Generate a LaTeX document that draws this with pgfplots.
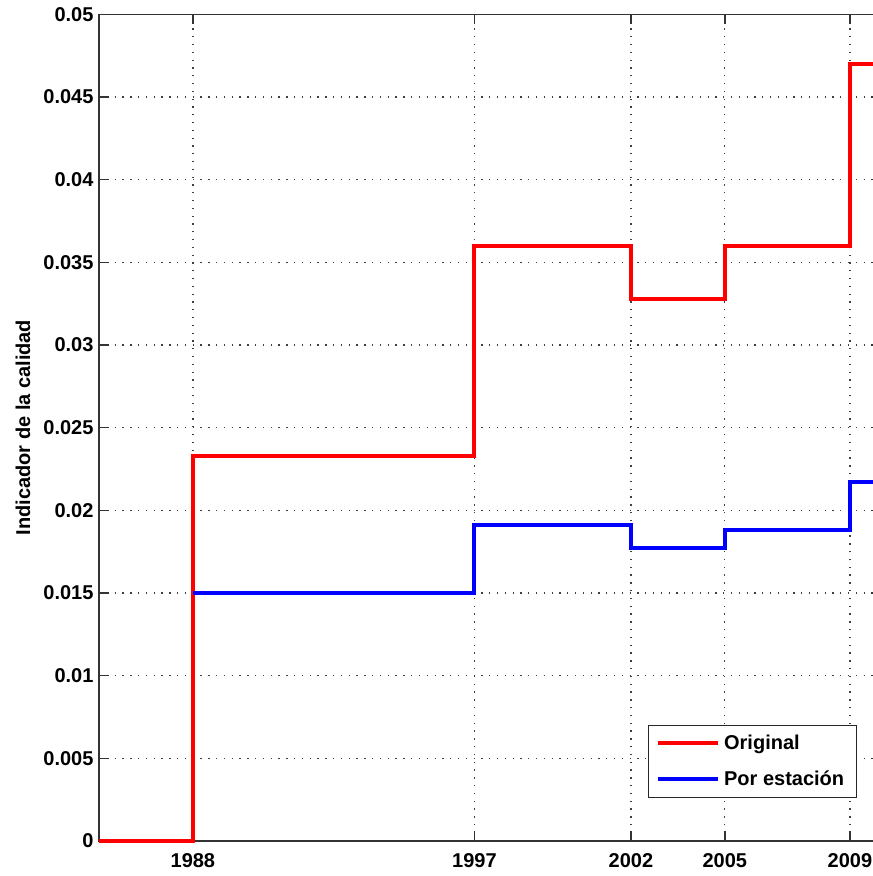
\documentclass[border=0pt]{standalone}
\usepackage{fontspec}
\setmainfont{Liberation Sans}
\usepackage{pgfplots}
\pgfplotsset{compat=1.18}
\newcommand{\lblfont}{\fontsize{20}{24}\selectfont\bfseries}
\begin{document}
\begin{tikzpicture}
\begin{axis}[
  scale only axis,
  width=782pt, height=826.5pt,
  xmin=1985, xmax=2010, ymin=0, ymax=0.05,
  xtick={1988,1997,2002,2005,2009},
  xticklabels={1988,1997,2002,2005,2009},
  ytick={0,0.005,0.01,0.015,0.02,0.025,0.03,0.035,0.04,0.045,0.05},
  yticklabels={0,0.005,0.01,0.015,0.02,0.025,0.03,0.035,0.04,0.045,0.05},
  scaled y ticks=false,
  tick align=inside,
  major tick length=10pt,
  tick style={line width=1.5pt, black!80},
  axis line style={line width=1.5pt, black!80},
  grid=major,
  major grid style={black!75, line width=1.3pt, dash pattern=on 1.3pt off 6.5pt},
  ticklabel style={font=\lblfont},
  xticklabel style={yshift=-9pt},
  yticklabel style={xshift=-2pt},
  ylabel={Indicador de la calidad},
  ylabel style={font=\lblfont, at={([xshift=-69pt]rel axis cs:0,0.5)}, anchor=base},
  clip=false,
  legend cell align=left,
  legend style={at={(axis cs:2009.22,0.0026)}, anchor=south east,
    font=\lblfont, draw=black!85, line width=1.2pt,
    inner xsep=8pt, inner ysep=8pt, row sep=16pt,
    nodes={inner xsep=4pt}},
  legend image code/.code={\draw[#1] (0pt,0pt) -- (60pt,0pt);},
]
\addplot[const plot, red, line width=4pt] coordinates {
  (1985,0) (1988,0.0233) (1997,0.0360) (2002,0.0328) (2005,0.0360) (2009,0.0470) (2010,0.0470)
};
\addlegendentry{Original}
\addplot[const plot, blue, line width=4pt] coordinates {
  (1988,0.0150) (1997,0.0191) (2002,0.0177) (2005,0.0188) (2009,0.0217) (2010,0.0217)
};
\addlegendentry{Por estación}
\coordinate (bl) at (rel axis cs:0,0);
\coordinate (tr) at (axis cs:2009.735,0.05);
\end{axis}
\pgfresetboundingbox
\path[use as bounding box] ([xshift=-99pt,yshift=-35pt]bl) rectangle ([yshift=14.3pt]tr);
\end{tikzpicture}
\end{document}
